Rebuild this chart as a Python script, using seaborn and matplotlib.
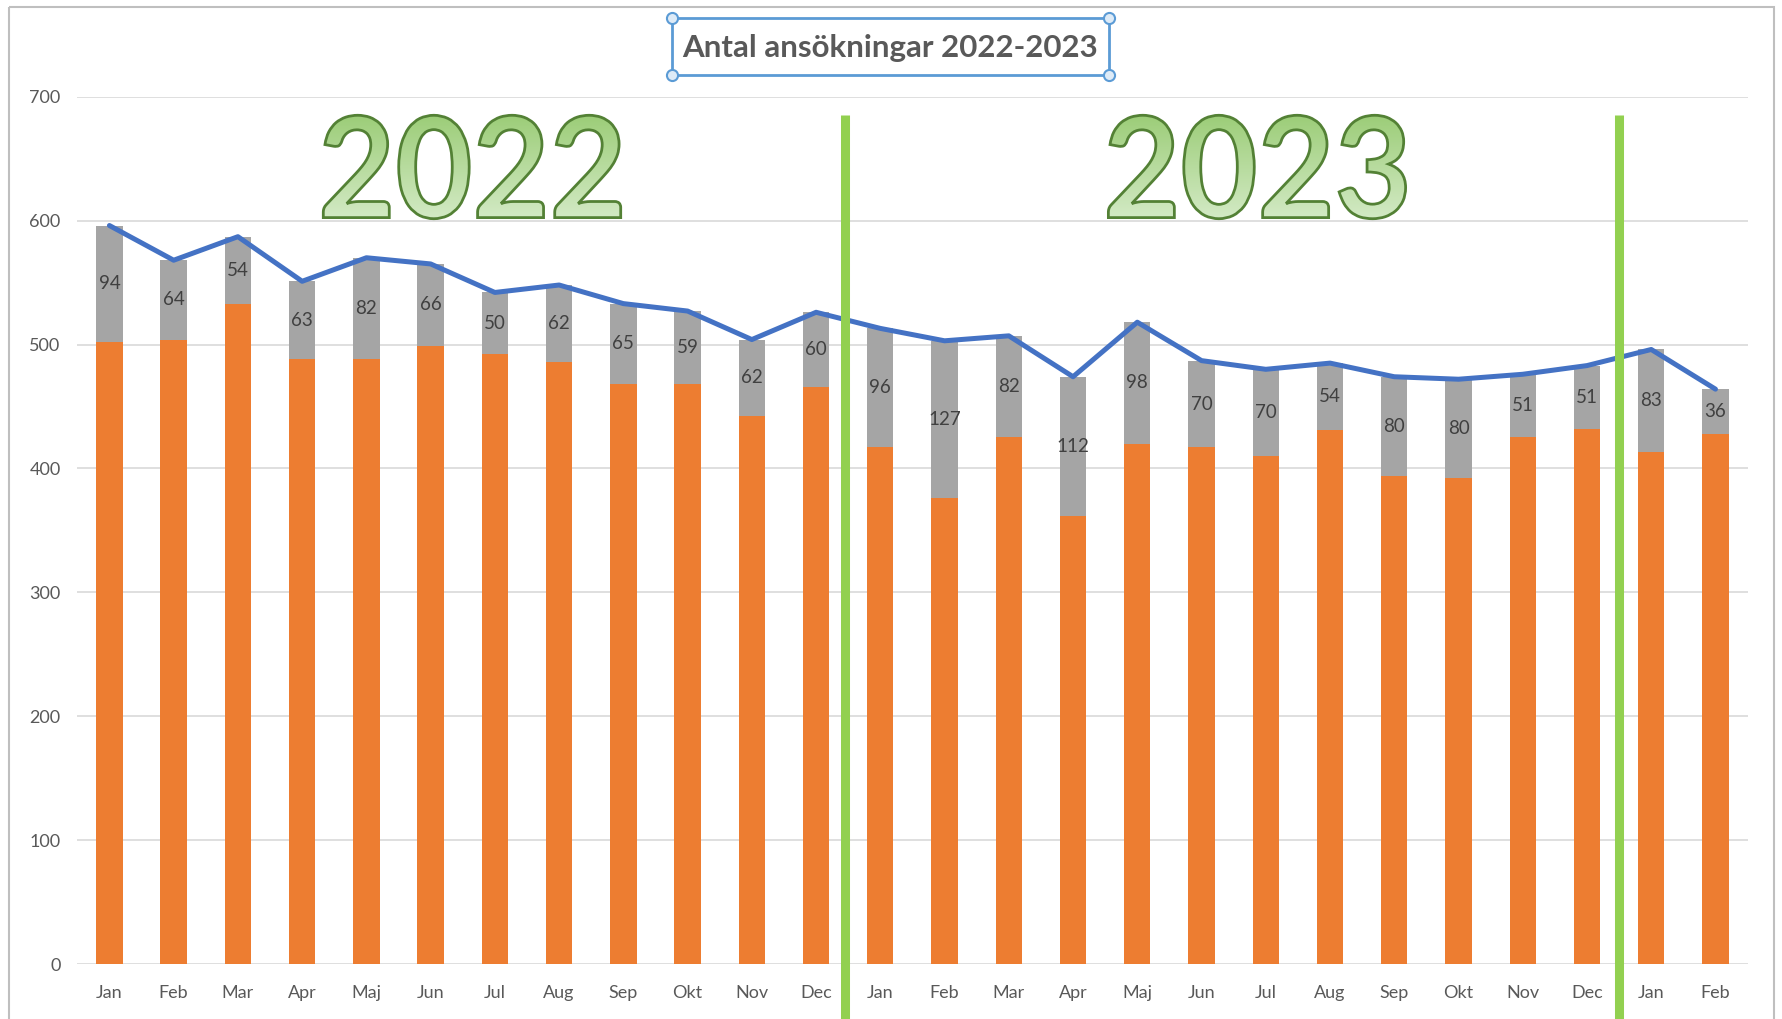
import numpy as np
import pandas as pd
import matplotlib
matplotlib.use("Agg")
import matplotlib.pyplot as plt
import seaborn as sns
from matplotlib.textpath import TextPath
from matplotlib.font_manager import FontProperties
from matplotlib.patches import PathPatch, Rectangle
from matplotlib.transforms import Affine2D
from matplotlib.lines import Line2D

# ---------------- data ----------------
months = ["Jan", "Feb", "Mar", "Apr", "Maj", "Jun", "Jul", "Aug", "Sep", "Okt", "Nov", "Dec",
          "Jan", "Feb", "Mar", "Apr", "Maj", "Jun", "Jul", "Aug", "Sep", "Okt", "Nov", "Dec",
          "Jan", "Feb"]
years = [2022] * 12 + [2023] * 12 + [2024] * 2
base_values = [502, 504, 533, 488, 488, 499, 492, 486, 468, 468, 442, 466,
               417, 376, 425, 362, 420, 417, 410, 431, 394, 392, 425, 432,
               413, 428]
extra_values = [94, 64, 54, 63, 82, 66, 50, 62, 65, 59, 62, 60,
                96, 127, 82, 112, 98, 70, 70, 54, 80, 80, 51, 51,
                83, 36]
year_labels = ["2022", "2023"]
title_text = "Antal ansökningar 2022-2023"

totals = [b + e for b, e in zip(base_values, extra_values)]
keys = [f"{y}-{i}" for i, y in enumerate(years)]
df = pd.DataFrame({"key": keys, "month": months, "base": base_values,
                   "extra": extra_values, "total": totals})

# ---------------- style ----------------
sns.set_theme(style="white")
plt.rcParams["font.family"] = ["Lato", "DejaVu Sans"]

ORANGE = "#ED7D31"
GRAY = "#A5A5A5"
BLUE = "#4472C4"
GREEN = "#92D050"
TXT = "#595959"

W, H = 1783, 1019
fig = plt.figure(figsize=(W / 100, H / 100), dpi=100)
fig.patch.set_facecolor("white")

left, right = 77.3, 1747.6
top, bottom = 96.6, 964.3
ax = fig.add_axes([left / W, (H - bottom) / H, (right - left) / W, (bottom - top) / H])

sns.barplot(data=df, x="key", y="total", color=GRAY, width=0.41, saturation=1,
            ax=ax, zorder=2, order=keys, linewidth=0, edgecolor="none")
sns.barplot(data=df, x="key", y="base", color=ORANGE, width=0.41, saturation=1,
            ax=ax, zorder=3, order=keys, linewidth=0, edgecolor="none")
sns.lineplot(x=np.arange(len(keys)), y=df["total"], color=BLUE, lw=3.6, ax=ax,
             zorder=4, solid_joinstyle="round", solid_capstyle="round")

for i, (b, e) in enumerate(zip(base_values, extra_values)):
    ax.text(i, b + e / 2, str(e), ha="center", va="center", fontsize=13.5,
            color="#404040", zorder=5)

ax.set_ylim(0, 700)
ax.set_xlim(-0.5, len(keys) - 0.5)
ax.set_yticks(range(0, 701, 100))
ax.set_xticks(range(len(keys)))
ax.set_xticklabels(months)
ax.tick_params(axis="both", length=0, labelsize=13, labelcolor=TXT)
ax.tick_params(axis="y", pad=12)
ax.tick_params(axis="x", pad=15)
ax.set_xlabel("")
ax.set_ylabel("")
ax.grid(axis="y", color="#D9D9D9", lw=1.2, zorder=0)
ax.set_axisbelow(True)
for s in ax.spines.values():
    s.set_visible(False)

# green separators
for xv in (11.45, 23.5):
    ax.axvline(xv, ymin=-0.07, ymax=0.979, color=GREEN, lw=6.5, clip_on=False, zorder=6,
               solid_capstyle="butt")

# ---------------- overlay (pixel coords) ----------------
ov = fig.add_axes([0, 0, 1, 1], zorder=10)
ov.set_xlim(0, W)
ov.set_ylim(H, 0)
ov.axis("off")
ov.patch.set_alpha(0)

# outer border
ov.add_patch(Rectangle((9, 7), 1765, 1100, fill=False, edgecolor="#BFBFBF", lw=1.5))

# title box
tx0, tx1, ty0, ty1 = 672, 1109, 18, 75
ov.add_patch(Rectangle((tx0, ty0), tx1 - tx0, ty1 - ty0, fill=False,
                       edgecolor="#5B9BD5", lw=2))
ov.add_line(Line2D([tx0, tx1, tx0, tx1], [ty0, ty0, ty1, ty1], ls="none", marker="o",
                   markersize=8, mfc="#DEEBF7", mec="#5B9BD5", mew=1.5))
ov.text((tx0 + tx1) / 2, (ty0 + ty1) / 2 + 1, title_text, ha="center", va="center",
        fontsize=22.5, fontweight="bold", color=TXT)

# big year labels with gradient fill
fp = FontProperties(family="Lato", weight="bold")
grad = np.linspace(0, 1, 256).reshape(-1, 1)
cmap = matplotlib.colors.LinearSegmentedColormap.from_list("g", ["#9CCD78", "#D3EAC5"])
for label, cx, cy in zip(year_labels, (472, 1257), (167, 167)):
    tp = TextPath((0, 0), label, size=140, prop=fp)
    bb = tp.get_extents()
    tr = (Affine2D().translate(-(bb.x0 + bb.width / 2), -(bb.y0 + bb.height / 2))
          .scale(0.95, -1).translate(cx, cy))
    path = tr.transform_path(tp)
    pb = path.get_extents()
    im = ov.imshow(grad, cmap=cmap, extent=[pb.x0, pb.x1, pb.y1, pb.y0], aspect="auto",
                   interpolation="bilinear", zorder=1)
    clip = PathPatch(path, transform=ov.transData, facecolor="none", edgecolor="none")
    ov.add_patch(clip)
    im.set_clip_path(clip)
    ov.add_patch(PathPatch(path, facecolor="none", edgecolor="#538135", lw=2, zorder=2))

ov.set_xlim(0, W)
ov.set_ylim(H, 0)

fig.savefig("out.png", dpi=100)
